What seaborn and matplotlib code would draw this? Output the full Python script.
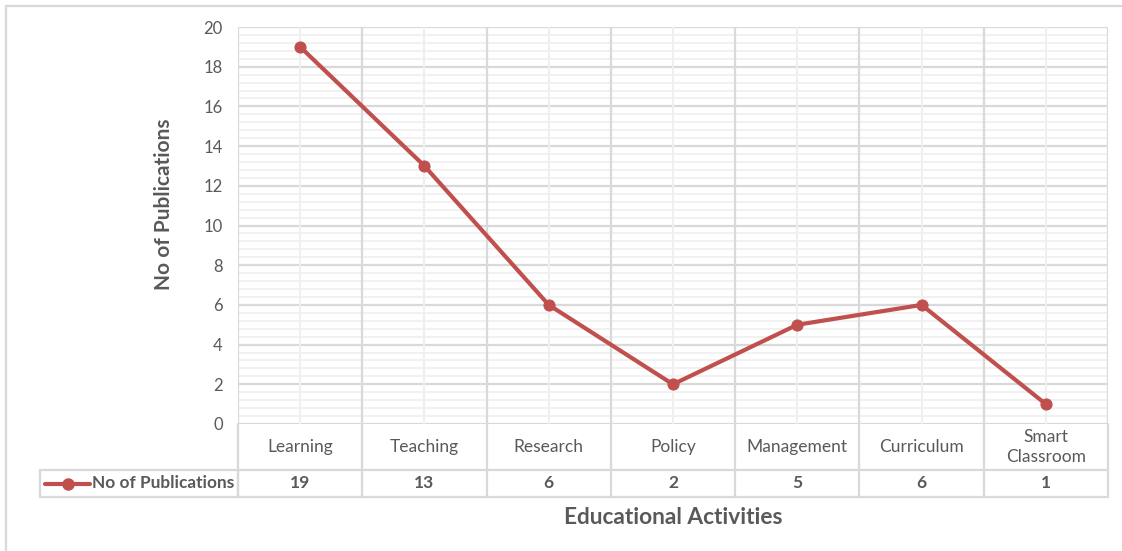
import matplotlib
matplotlib.use("Agg")
import matplotlib.pyplot as plt
import matplotlib.transforms as mtransforms
from matplotlib.lines import Line2D
from matplotlib.patches import Rectangle
import numpy as np
import pandas as pd
import seaborn as sns

categories = ["Learning", "Teaching", "Research", "Policy", "Management", "Curriculum", "Smart\nClassroom"]
publications = [19, 13, 6, 2, 5, 6, 1]
series_name = "No of Publications"
y_ticks = [0, 2, 4, 6, 8, 10, 12, 14, 16, 18, 20]

sns.set_theme(style="white")
plt.rcParams["font.family"] = ["Lato", "DejaVu Sans"]

LINE = "#C0504D"
TXT = "#595959"
MAJ = "#D9D9D9"
MIN = "#EFEFEF"

W, H = 1122, 551
fig = plt.figure(figsize=(W / 100, H / 100), dpi=100)
fig.patch.set_facecolor("white")

L, R, T, B = 238, 1108, 27, 424
ax = fig.add_axes([L / W, 1 - B / H, (R - L) / W, (B - T) / H])

df = pd.DataFrame({"pos": np.arange(len(categories)), "val": publications})

n = len(categories)
ax.set_xlim(-0.5, n - 0.5)
ax.set_ylim(0, 20)

# gridlines: minor every 0.4, major every 2
for y in np.arange(0, 20.01, 0.4):
    major = abs(y / 2 - round(y / 2)) < 1e-6
    ax.axhline(y, color=MAJ if major else MIN, lw=1.6 if major else 1.2, zorder=0)
for i in range(n):
    ax.axvline(i, color=MIN, lw=1.4, zorder=0)
for i in range(n + 1):
    ax.axvline(i - 0.5, color=MAJ, lw=1.6, zorder=0)

sns.lineplot(data=df, x="pos", y="val", ax=ax, color=LINE, lw=3,
             marker="o", markersize=8, markeredgecolor=LINE, zorder=3)

ax.set_xticks([])
ax.set_yticks(y_ticks)
ax.set_yticklabels([str(v) for v in y_ticks], color=TXT, fontsize=12)
ax.tick_params(axis="y", length=0, pad=11)
for s in ax.spines.values():
    s.set_visible(False)
ax.set_xlabel("")
ax.set_ylabel(series_name, fontsize=15, fontweight="bold", color=TXT)
ax.yaxis.set_label_coords(-64 / (R - L), 0.554)

# data table under the axis
tr = mtransforms.blended_transform_factory(ax.transData, fig.transFigure)
fy = lambda py: 1 - py / H
row1_top, row1_bot, row2_bot = 424, 470, 497
for i in range(n + 1):
    ax.add_line(Line2D([i - 0.5, i - 0.5], [fy(row1_top), fy(row2_bot)], transform=tr,
                       color=MAJ, lw=1.6, clip_on=False))
ax.add_line(Line2D([-0.5, n - 0.5], [fy(row1_bot), fy(row1_bot)], transform=tr,
                   color=MAJ, lw=1.6, clip_on=False))
ax.add_line(Line2D([-0.5, n - 0.5], [fy(row2_bot), fy(row2_bot)], transform=tr,
                   color=MAJ, lw=1.6, clip_on=False))
for i, (c, v) in enumerate(zip(categories, publications)):
    ax.text(i, fy((row1_top + row1_bot) / 2), c, transform=tr, ha="center", va="center",
            fontsize=12.5, color=TXT, linespacing=1.35)
    ax.text(i, fy((row1_bot + row2_bot) / 2), str(v), transform=tr, ha="center", va="center",
            fontsize=12.5, fontweight="bold", color=TXT)

# legend cell of the table
fig.patches.append(Rectangle((40 / W, fy(row2_bot)), (L - 40) / W, (row2_bot - row1_bot) / H,
                             transform=fig.transFigure, fill=False, edgecolor=MAJ, lw=1.6))
ym = fy((row1_bot + row2_bot) / 2)
fig.lines.append(Line2D([45 / W, 90 / W], [ym, ym], transform=fig.transFigure, color=LINE, lw=3))
fig.lines.append(Line2D([67.5 / W], [ym], transform=fig.transFigure, color=LINE, marker="o",
                        markersize=8, lw=0))
fig.text(92 / W, ym, series_name, ha="left", va="center", fontsize=12.4, fontweight="bold", color=TXT)

fig.text((L + R) / 2 / W, fy(517), "Educational Activities", ha="center", va="center",
         fontsize=16.3, fontweight="bold", color=TXT)

# outer chart frame
fig.patches.append(Rectangle((6 / W, -0.01), 1.02, 1 - 6 / H + 0.01, transform=fig.transFigure,
                             fill=False, edgecolor="#D9D9D9", lw=1.6))

fig.savefig("out.png", dpi=100, facecolor="white")
